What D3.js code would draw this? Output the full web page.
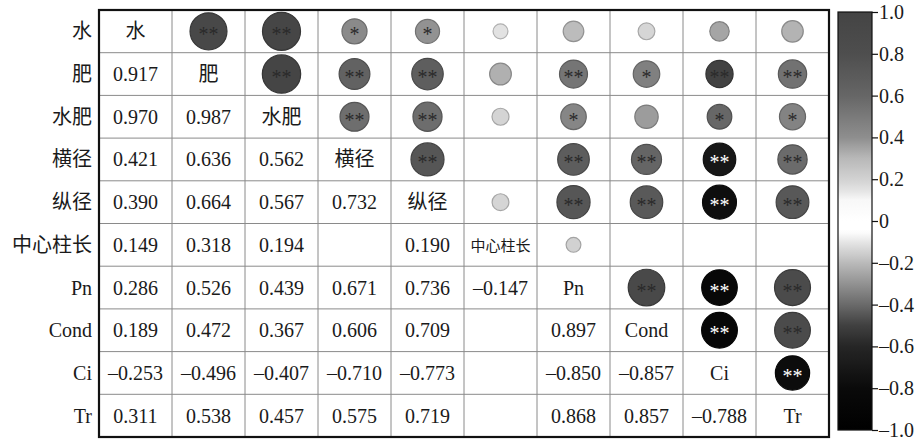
<!DOCTYPE html>
<html lang="zh-CN">
<head>
<meta charset="utf-8">
<script src="https://cdn.jsdelivr.net/npm/d3@7"></script>
<style>
  html, body { margin: 0; padding: 0; background: #fff; }
  svg { display: block; }
  text { font-family: "Liberation Serif", "Noto Sans CJK SC", serif; }
</style>
</head>
<body>
<svg id="chart" width="923" height="442"></svg>
<script>
// Variables of the correlation matrix
const labels = ["水", "肥", "水肥", "横径", "纵径", "中心柱长", "Pn", "Cond", "Ci", "Tr"];

// Lower triangle of Pearson coefficients (row i, columns 0..i-1); null = not shown
const lower = [
  [],
  [0.917],
  [0.970, 0.987],
  [0.421, 0.636, 0.562],
  [0.390, 0.664, 0.567, 0.732],
  [0.149, 0.318, 0.194, null, 0.190],
  [0.286, 0.526, 0.439, 0.671, 0.736, -0.147],
  [0.189, 0.472, 0.367, 0.606, 0.709, null, 0.897],
  [-0.253, -0.496, -0.407, -0.710, -0.773, null, -0.850, -0.857],
  [0.311, 0.538, 0.457, 0.575, 0.719, null, 0.868, 0.857, -0.788]
];

// Significance marks for the same pairs
const signif = [
  [],
  ["**"],
  ["**", "**"],
  ["*", "**", "**"],
  ["*", "**", "**", "**"],
  ["", "", "", "", ""],
  ["", "**", "*", "**", "**", ""],
  ["", "*", "", "**", "**", "", "**"],
  ["", "**", "*", "**", "**", "", "**", "**"],
  ["", "**", "*", "**", "**", "", "**", "**", "**"]
];

// Colour bar ticks
const barTicks = [1.0, 0.8, 0.6, 0.4, 0.2, 0, -0.2, -0.4, -0.6, -0.8, -1.0];

(function draw() {
  const svg = d3.select("#chart");
  const n = labels.length;
  const plotL = 99, plotR = 829, plotT = 10, plotB = 437;

  const x = d3.scaleBand().domain(d3.range(n)).range([plotL, plotR]);
  const y = d3.scaleBand().domain(d3.range(n)).range([plotT, plotB]);

  // Grey diverging scale: positive -> dark grey, negative -> black
  const color = d3.scaleLinear()
    .domain([-1, -0.8, -0.6, -0.5, -0.4, -0.2, -0.1, -0.05, 0, 0.1, 0.15, 0.2, 0.3, 0.4, 0.6, 0.8, 1])
    .range(["#000000", "#0a0a0a", "#262626", "#404040", "#6a6a6a", "#bababa", "#e6e6e6", "#ffffff", "#ffffff",
            "#f8f8f8", "#e2e2e2", "#d2d2d2", "#b8b8b8", "#8e8e8e", "#666666", "#4e4e4e", "#444444"])
    .clamp(true);

  const radius = d3.scaleSqrt().domain([0, 1]).range([0, 19.3]);

  const fmt = v => (v < 0 ? "\u2013" : "") + Math.abs(v).toFixed(3);

  // Cells
  const cells = [];
  for (let i = 0; i < n; i++) {
    for (let j = 0; j < i; j++) {
      cells.push({ i, j, v: lower[i][j], s: signif[i][j] });
    }
  }
  const shown = cells.filter(d => d.v !== null);

  // Grid lines
  const grid = svg.append("g");
  grid.selectAll("line.v").data(d3.range(1, n)).join("line")
    .attr("x1", d => x(d)).attr("x2", d => x(d))
    .attr("y1", plotT).attr("y2", plotB)
    .attr("stroke", "#8a8a8a").attr("stroke-width", 1);
  grid.selectAll("line.h").data(d3.range(1, n)).join("line")
    .attr("y1", d => y(d)).attr("y2", d => y(d))
    .attr("x1", plotL).attr("x2", plotR)
    .attr("stroke", "#8a8a8a").attr("stroke-width", 1);

  // Lower triangle: coefficients as text
  svg.append("g").selectAll("text").data(shown).join("text")
    .attr("x", d => x(d.j) + x.bandwidth() / 2)
    .attr("y", d => y(d.i) + y.bandwidth() / 2 + 7)
    .attr("text-anchor", "middle")
    .attr("font-size", 20)
    .attr("fill", "#1a1a1a")
    .text(d => fmt(d.v));

  // Upper triangle: circles sized and shaded by coefficient
  const up = svg.append("g").selectAll("g").data(shown).join("g")
    .attr("transform", d => `translate(${x(d.i) + x.bandwidth() / 2},${y(d.j) + y.bandwidth() / 2})`);
  up.append("circle")
    .attr("r", d => radius(Math.abs(d.v)))
    .attr("fill", d => color(d.v))
    .attr("stroke", d => d3.color(color(d.v)).darker(0.7))
    .attr("stroke-width", 1.2);
  up.filter(d => d.s).append("text")
    .attr("text-anchor", "middle")
    .attr("y", 10)
    .attr("font-size", 20)
    .attr("fill", d => d.v < -0.6 ? "#ffffff" : "#2a2a2a")
    .text(d => d.s);

  // Diagonal: variable names
  const isLong = d => /[\u4e00-\u9fff]/.test(d) && d.length > 3;
  svg.append("g").selectAll("text").data(labels).join("text")
    .attr("x", (d, k) => x(k) + x.bandwidth() / 2)
    .attr("y", (d, k) => y(k) + y.bandwidth() / 2 + (isLong(d) ? 6 : 7))
    .attr("text-anchor", "middle")
    .attr("font-size", d => isLong(d) ? 15 : 20)
    .attr("fill", "#1a1a1a")
    .text(d => d);

  // Row labels on the left
  svg.append("g").selectAll("text").data(labels).join("text")
    .attr("x", plotL - 7)
    .attr("y", (d, k) => y(k) + y.bandwidth() / 2 + 7)
    .attr("text-anchor", "end")
    .attr("font-size", 20)
    .attr("fill", "#1a1a1a")
    .text(d => d);

  // Outer frame
  svg.append("rect")
    .attr("x", plotL).attr("y", plotT)
    .attr("width", plotR - plotL).attr("height", plotB - plotT)
    .attr("fill", "none").attr("stroke", "#111").attr("stroke-width", 2.2);

  // Colour bar
  const cbX = 838, cbW = 34;
  const cbY = d3.scaleLinear().domain([-1, 1]).range([430, 12]);
  const grad = svg.append("defs").append("linearGradient")
    .attr("id", "cbar").attr("x1", 0).attr("y1", 1).attr("x2", 0).attr("y2", 0);
  grad.selectAll("stop").data(d3.range(0, 1.0001, 0.01)).join("stop")
    .attr("offset", d => d)
    .attr("stop-color", d => color(-1 + 2 * d));
  svg.append("rect")
    .attr("x", cbX).attr("y", cbY(1))
    .attr("width", cbW).attr("height", cbY(-1) - cbY(1))
    .attr("fill", "url(#cbar)")
    .attr("stroke", "#111").attr("stroke-width", 1.2);

  const axis = d3.axisRight(cbY)
    .tickValues(barTicks)
    .tickSize(6)
    .tickFormat(v => v === 0 ? "0" : (v < 0 ? "\u2013" : "") + Math.abs(v).toFixed(1));
  const ax = svg.append("g").attr("transform", `translate(${cbX + cbW},0)`).call(axis);
  ax.attr("font-family", "Liberation Serif, serif").attr("font-size", 20);
  ax.select(".domain").remove();
  ax.selectAll(".tick line").attr("stroke", "#111").attr("stroke-width", 1.2);
  ax.selectAll(".tick text")
    .attr("x", 7)
    .attr("fill", "#1a1a1a");
})();
</script>
</body>
</html>
